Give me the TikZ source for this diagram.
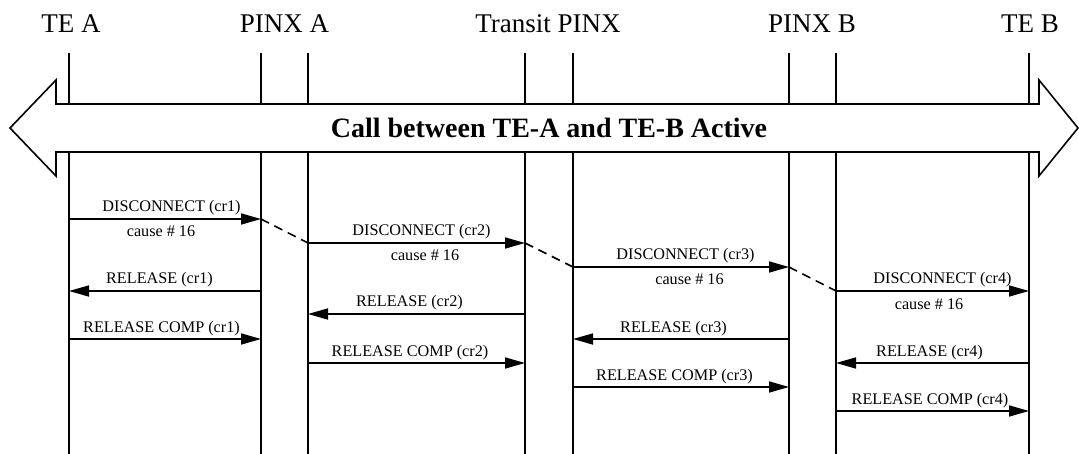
\documentclass[tikz,border=0pt]{standalone}
\usepackage{fontspec}
\setmainfont{Liberation Serif}
\usetikzlibrary{arrows.meta}
\begin{document}
\begin{tikzpicture}[x=1pt,y=-1pt,
  life/.style={line width=1.6pt},
  msg/.style={-{Triangle[length=20pt,width=11pt]}, line width=1.6pt},
  lbl/.style={font=\fontsize{16.2}{18}\selectfont, anchor=base, inner sep=0pt},
  hdr/.style={font=\fontsize{27}{30}\selectfont, anchor=base, inner sep=0pt},
  link/.style={dash pattern=on 9pt off 6pt, line width=1.6pt},
  band/.style={line width=1.6pt, fill=white, draw=black}]
\useasboundingbox (0,0) rectangle (1079,454);

% headers
\node[hdr] (hA)  at (71,33)    {TE A};
\node[hdr] (hPA) at (284.5,33) {PINX A};
\node[hdr] (hT)  at (548,33)   {Transit PINX};
\node[hdr] (hPB) at (812,33)   {PINX B};
\node[hdr] (hB)  at (1030,33)  {TE B};

% lifelines
\foreach \n/\x in {A/69, PAa/261, PAb/308, Ta/525, Tb/573, PBa/789, PBb/836, B/1029}{
  \coordinate (\n t) at (\x,53);
  \coordinate (\n b) at (\x,454);
  \draw[life] (\n t) -- (\n b);
}

% big double arrow
\draw[band] (10,128) -- (56,80) -- (56,104) -- (1039,104) -- (1039,80) -- (1078,128)
  -- (1039,176) -- (1039,152) -- (56,152) -- (56,176) -- cycle;
\node[font=\fontsize{28}{30}\selectfont\bfseries, inner sep=0pt] (title) at (549,128)
  {Call between TE-A and TE-B Active};

% message end points
\coordinate (d1s) at (69,219);  \coordinate (d1e) at (261,219);
\coordinate (r1s) at (261,291); \coordinate (r1e) at (69,291);
\coordinate (c1s) at (69,339);  \coordinate (c1e) at (261,339);

\coordinate (d2s) at (308,243); \coordinate (d2e) at (525,243);
\coordinate (r2s) at (525,314); \coordinate (r2e) at (308,314);
\coordinate (c2s) at (308,363); \coordinate (c2e) at (525,363);

\coordinate (d3s) at (573,267); \coordinate (d3e) at (789,267);
\coordinate (r3s) at (789,339); \coordinate (r3e) at (573,339);
\coordinate (c3s) at (573,387); \coordinate (c3e) at (789,387);

\coordinate (d4s) at (836,291); \coordinate (d4e) at (1029,291);
\coordinate (r4s) at (1029,363); \coordinate (r4e) at (836,363);
\coordinate (c4s) at (836,411); \coordinate (c4e) at (1029,411);

% dashed links
\draw[link] (d1e) -- (d2s);
\draw[link] (d2e) -- (d3s);
\draw[link] (d3e) -- (d4s);

% messages
\draw[msg] (d1s) -- (d1e)
  node[midway, lbl, xshift=6.5pt, yshift=7pt] (ld1) {DISCONNECT (cr1)}
  node[midway, lbl, xshift=-4pt, yshift=-18pt] (lc1) {cause \# 16};
\draw[msg] (r1s) -- (r1e) node[midway, lbl, xshift=-5.5pt, yshift=7pt] (lr1) {RELEASE (cr1)};
\draw[msg] (c1s) -- (c1e) node[midway, lbl, xshift=-3.5pt, yshift=7pt] (lcc1) {RELEASE COMP (cr1)};

\draw[msg] (d2s) -- (d2e)
  node[midway, lbl, xshift=5pt, yshift=7pt] (ld2) {DISCONNECT (cr2)}
  node[midway, lbl, xshift=8.5pt, yshift=-18pt] (lc2) {cause \# 16};
\draw[msg] (r2s) -- (r2e) node[midway, lbl, xshift=-7pt, yshift=7pt] (lr2) {RELEASE (cr2)};
\draw[msg] (c2s) -- (c2e) node[midway, lbl, xshift=-6.5pt, yshift=7pt] (lcc2) {RELEASE COMP (cr2)};

\draw[msg] (d3s) -- (d3e)
  node[midway, lbl, xshift=4.5pt, yshift=7pt] (ld3) {DISCONNECT (cr3)}
  node[midway, lbl, xshift=8.5pt, yshift=-18pt] (lc3) {cause \# 16};
\draw[msg] (r3s) -- (r3e) node[midway, lbl, xshift=-7.5pt, yshift=7pt] (lr3) {RELEASE (cr3)};
\draw[msg] (c3s) -- (c3e) node[midway, lbl, xshift=-6.5pt, yshift=7pt] (lcc3) {RELEASE COMP (cr3)};

\draw[msg] (d4s) -- (d4e)
  node[midway, lbl, xshift=10pt, yshift=7pt] (ld4) {DISCONNECT (cr4)}
  node[midway, lbl, xshift=-3.5pt, yshift=-18pt] (lc4) {cause \# 16};
\draw[msg] (r4s) -- (r4e) node[midway, lbl, xshift=-3pt, yshift=7pt] (lr4) {RELEASE (cr4)};
\draw[msg] (c4s) -- (c4e) node[midway, lbl, xshift=-2.5pt, yshift=7pt] (lcc4) {RELEASE COMP (cr4)};
\end{tikzpicture}
\end{document}
